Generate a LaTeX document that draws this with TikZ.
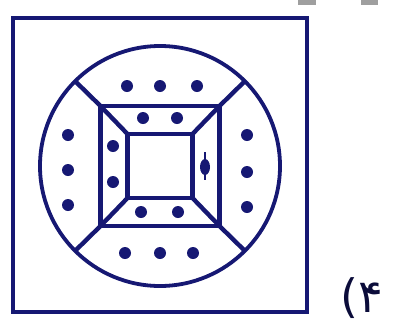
\documentclass[tikz,border=0pt]{standalone}
\usepackage{fontspec}
\newfontfamily\arabicfont[Script=Arabic]{DejaVu Sans}
\TeXXeTstate=1
\definecolor{ink}{RGB}{22,24,115}
\begin{document}
\begin{tikzpicture}[x=1pt, y=-1pt,
    line/.style={draw=ink, line width=4.4pt},
    sq/.style={line, rectangle, inner sep=0pt, outer sep=0pt},
    dot/.style={fill=ink}]
    \useasboundingbox (0,0) rectangle (396,330);
    % scraps of the neighbouring figure
    \fill[gray!75] (298,0) rectangle (316,5);
    \fill[gray!75] (361,0) rectangle (378,5);

    \node[sq, minimum width=294pt, minimum height=294pt] (frame) at (160,165) {};
    \node[line, circle, inner sep=0pt, outer sep=0pt, minimum size=240pt, line width=3.8pt] (ring) at (160,166) {};
    \node[sq, minimum width=119pt, minimum height=120pt] (mid) at (160,166) {};
    \node[sq, minimum width=65pt, minimum height=64pt] (inn) at (160,166) {};

    \draw[line] (mid.north west) -- (ring.135);
    \draw[line] (mid.north east) -- (ring.45);
    \draw[line] (mid.south west) -- (ring.225);
    \draw[line] (mid.south east) -- (ring.-45);

    \draw[line] (mid.north west) -- (inn.north west);
    \draw[line] (mid.north east) -- (inn.north east);
    \draw[line] (mid.south west) -- (inn.south west);
    \draw[line] (mid.south east) -- (inn.south east);

    % dots in the ring
    \foreach \x in {127,160,197} \fill[dot] (\x,86) circle (6pt);
    \foreach \x in {125,160,193} \fill[dot] (\x,253) circle (6pt);
    \foreach \y in {135,170,205} \fill[dot] (68,\y) circle (6pt);
    \foreach \y in {135,172,207} \fill[dot] (247,\y) circle (6pt);
    % dots between the squares
    \foreach \x in {143,177} \fill[dot] (\x,118) circle (6pt);
    \foreach \x in {141,178} \fill[dot] (\x,212) circle (6pt);
    \foreach \y in {146,182} \fill[dot] (113,\y) circle (6pt);
    \fill[dot] (205,167) ellipse (5pt and 8pt);
    \draw[ink, line width=2.4pt] (205,152) -- (205,180);

    \node[text=ink!50!black, font=\arabicfont\fontsize{46}{46}\selectfont, inner sep=0pt] (num) at (362,298) {\beginR ۴)\endR};
\end{tikzpicture}
\end{document}
